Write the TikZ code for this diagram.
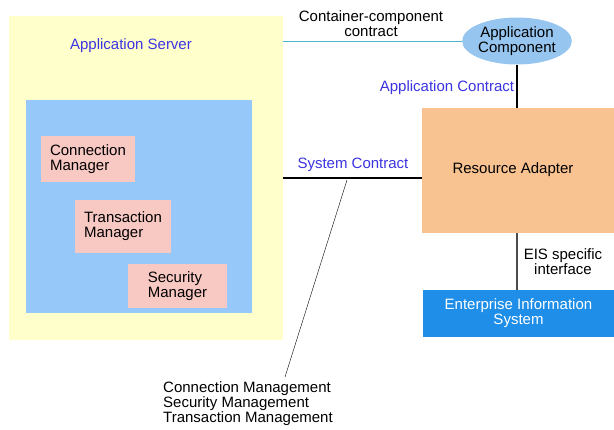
\documentclass[tikz,border=0pt]{standalone}
\usepackage{fontspec}
\setmainfont{Liberation Sans}
\usetikzlibrary{shapes.geometric}
\definecolor{srvyellow}{HTML}{FFFFCC}
\definecolor{contblue}{HTML}{96C8FA}
\definecolor{mgrpink}{HTML}{F8C8C2}
\definecolor{compblue}{HTML}{96C6F0}
\definecolor{adaptorange}{HTML}{F9C291}
\definecolor{eisblue}{HTML}{1E8EE8}
\definecolor{labelblue}{HTML}{3C34E0}
\definecolor{cclink}{HTML}{4FB4CC}
\begin{document}
\begin{tikzpicture}[x=1pt,y=-1pt,
  every node/.style={font=\fontsize{15}{15}\selectfont},
  box/.style={rectangle,inner sep=0pt},
  mgrbox/.style={box,fill=mgrpink,align=left},
  contract/.style={text=labelblue},
  link/.style={line width=2pt}]
\useasboundingbox (0,0) rectangle (614,429);
\node[box,fill=srvyellow,minimum width=274pt,minimum height=324pt] (appserver) at (145.5,178) {};
\node[contract] (appserverlbl) at (131,46) {Application Server};
\node[box,fill=contblue,minimum width=226pt,minimum height=213pt] (container) at (139,206.5) {};
\node[mgrbox,minimum width=94pt,minimum height=46pt] (connmgr) at (88,159) {Connection\\Manager};
\node[mgrbox,minimum width=96pt,minimum height=53pt] (txmgr) at (123,226.5) {Transaction\\Manager};
\node[mgrbox,minimum width=99pt,minimum height=44pt] (secmgr) at (177.5,286) {Security\\Manager};
\node[ellipse,fill=compblue,inner sep=0pt,minimum width=106pt,minimum height=47pt,align=center] (appcomp) at (517,41) {Application\\Component};
\node[box,fill=adaptorange,minimum width=192pt,minimum height=125pt] (resadapter) at (518,170.5) {};
\node (resadapterlbl) at (513,170) {Resource Adapter};
\node[box,fill=eisblue,text=white,align=center,minimum width=191pt,minimum height=47pt] (eis) at (518.5,313.5) {Enterprise Information\\System};
\node[align=center] (cclbl) at (371,24) {Container-component\\contract};
\node[contract] (applbl) at (447,88) {Application Contract};
\node[contract] (syslbl) at (353,165) {System Contract};
\node[align=center] (eislbl) at (563,262) {EIS specific\\interface};
\node[align=left,anchor=north west,inner sep=0pt] (mgmt) at (163,381) {Connection Management\\Security Management\\Transaction Management};
\coordinate (sysstart) at (283,178);
\coordinate (slantstart) at (347,180);
\coordinate (slantend) at (285,377);
\draw[cclink,thick] (appserver.east |- appcomp.west) -- (appcomp.west);
\draw[link] (appcomp.south) -- (appcomp.south |- resadapter.north);
\draw[link] (sysstart) -- (resadapter.west |- sysstart);
\draw[thin] (slantstart) -- (slantend);
\draw[line width=1.2pt,black!70] (resadapter.south -| appcomp.south) -- (eis.north -| appcomp.south);
\end{tikzpicture}
\end{document}
